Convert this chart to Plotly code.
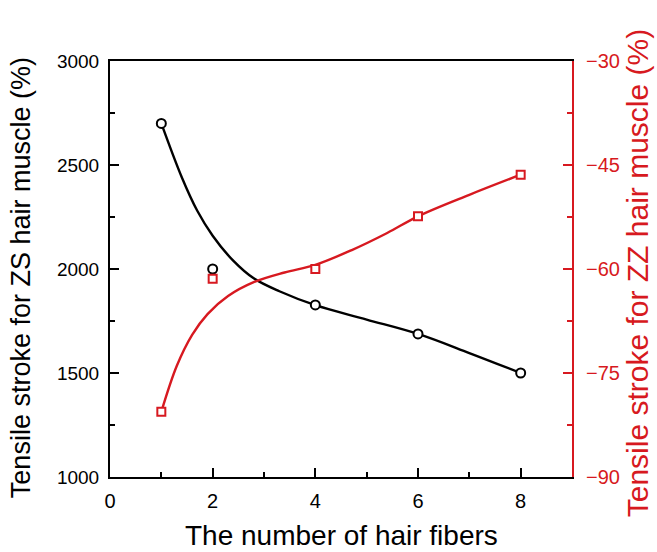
import plotly.graph_objects as go

# Measured tensile strokes versus the number of hair fibers
fibers = [1, 2, 4, 6, 8]
zs_stroke = [2700, 2000, 1827, 1688, 1500]
zz_stroke = [-80.6, -61.4, -60.0, -52.4, -46.4]

# Smoothed trend curves for each muscle type
zs_fit_x = [1, 1.4, 1.7, 2.0, 2.4, 2.8, 3.3, 4, 5, 6, 7, 8]
zs_fit = [2700, 2440, 2280, 2160, 2040, 1955, 1893, 1826, 1757, 1688, 1596, 1500]
zz_fit_x = [1, 1.3, 1.6, 1.9, 2.3, 2.8, 3.4, 4, 4.7, 5.4, 6, 7, 8]
zz_fit = [-80.6, -74.0, -69.5, -66.5, -63.9, -61.9, -60.5, -59.4, -57.3, -54.8, -52.4, -49.3, -46.4]

BLACK = "#000000"
RED = "#d71920"
FONT = "Liberation Sans, Arial, sans-serif"

fig = go.Figure()

fig.add_trace(go.Scatter(
    x=zs_fit_x, y=zs_fit, mode="lines",
    line=dict(color=BLACK, width=2.4, shape="spline", smoothing=1.0),
    showlegend=False, hoverinfo="skip"))
fig.add_trace(go.Scatter(
    x=zz_fit_x, y=zz_fit, mode="lines", yaxis="y2",
    line=dict(color=RED, width=2.4, shape="spline", smoothing=1.0),
    showlegend=False, hoverinfo="skip"))
fig.add_trace(go.Scatter(
    x=fibers, y=zs_stroke, mode="markers", name="ZS",
    marker=dict(symbol="circle", size=9, color="white",
                line=dict(color=BLACK, width=2)),
    showlegend=False))
fig.add_trace(go.Scatter(
    x=fibers, y=zz_stroke, mode="markers", name="ZZ", yaxis="y2",
    marker=dict(symbol="square", size=8, color="white",
                line=dict(color=RED, width=2)),
    showlegend=False))

fig.update_layout(
    width=657, height=552,
    margin=dict(l=110, r=85, t=61, b=75),
    paper_bgcolor="white", plot_bgcolor="white",
    font=dict(family=FONT, color=BLACK),
    xaxis=dict(
        range=[0, 9], tickvals=[0, 2, 4, 6, 8],
        ticks="inside", ticklen=9, tickwidth=2, tickcolor=BLACK,
        minor=dict(dtick=1, tick0=0, ticks="inside", ticklen=5, tickwidth=2, tickcolor=BLACK),
        showline=True, linecolor=BLACK, linewidth=2, mirror=True,
        showgrid=False, zeroline=False,
        tickfont=dict(size=20, color=BLACK), ticklabelstandoff=5),
    yaxis=dict(
        range=[1000, 3000], dtick=500, tick0=1000,
        ticks="inside", ticklen=9, tickwidth=2, tickcolor=BLACK,
        minor=dict(dtick=250, tick0=1000, ticks="inside", ticklen=5, tickwidth=2, tickcolor=BLACK),
        showline=True, linecolor=BLACK, linewidth=2,
        showgrid=False, zeroline=False,
        tickfont=dict(size=19, color=BLACK), ticklabelstandoff=5),
    yaxis2=dict(
        range=[-90, -30], dtick=15, tick0=-90,
        overlaying="y", side="right",
        ticks="inside", ticklen=9, tickwidth=2, tickcolor=RED,
        minor=dict(dtick=7.5, tick0=-90, ticks="inside", ticklen=5, tickwidth=2, tickcolor=RED),
        showline=True, linecolor=RED, linewidth=2,
        showgrid=False, zeroline=False,
        tickfont=dict(size=20, color=RED), ticklabelstandoff=8),
)

# Axis titles
fig.add_annotation(
    text="The number of hair fibers", xref="paper", yref="paper",
    x=0.5, y=-0.14, xanchor="center", yanchor="middle", showarrow=False,
    font=dict(size=28, color=BLACK, family=FONT))
fig.add_annotation(
    text="Tensile stroke for ZS hair muscle (%)", xref="paper", yref="paper",
    x=-0.193, y=0.48, xanchor="center", yanchor="middle", showarrow=False,
    textangle=-90, font=dict(size=27, color=BLACK, family=FONT))
fig.add_annotation(
    text="Tensile stroke for ZZ hair muscle (%)", xref="paper", yref="paper",
    x=1.141, y=0.49, xanchor="center", yanchor="middle", showarrow=False,
    textangle=-90, font=dict(size=30, color=RED, family=FONT))

fig.write_html("out.html")
